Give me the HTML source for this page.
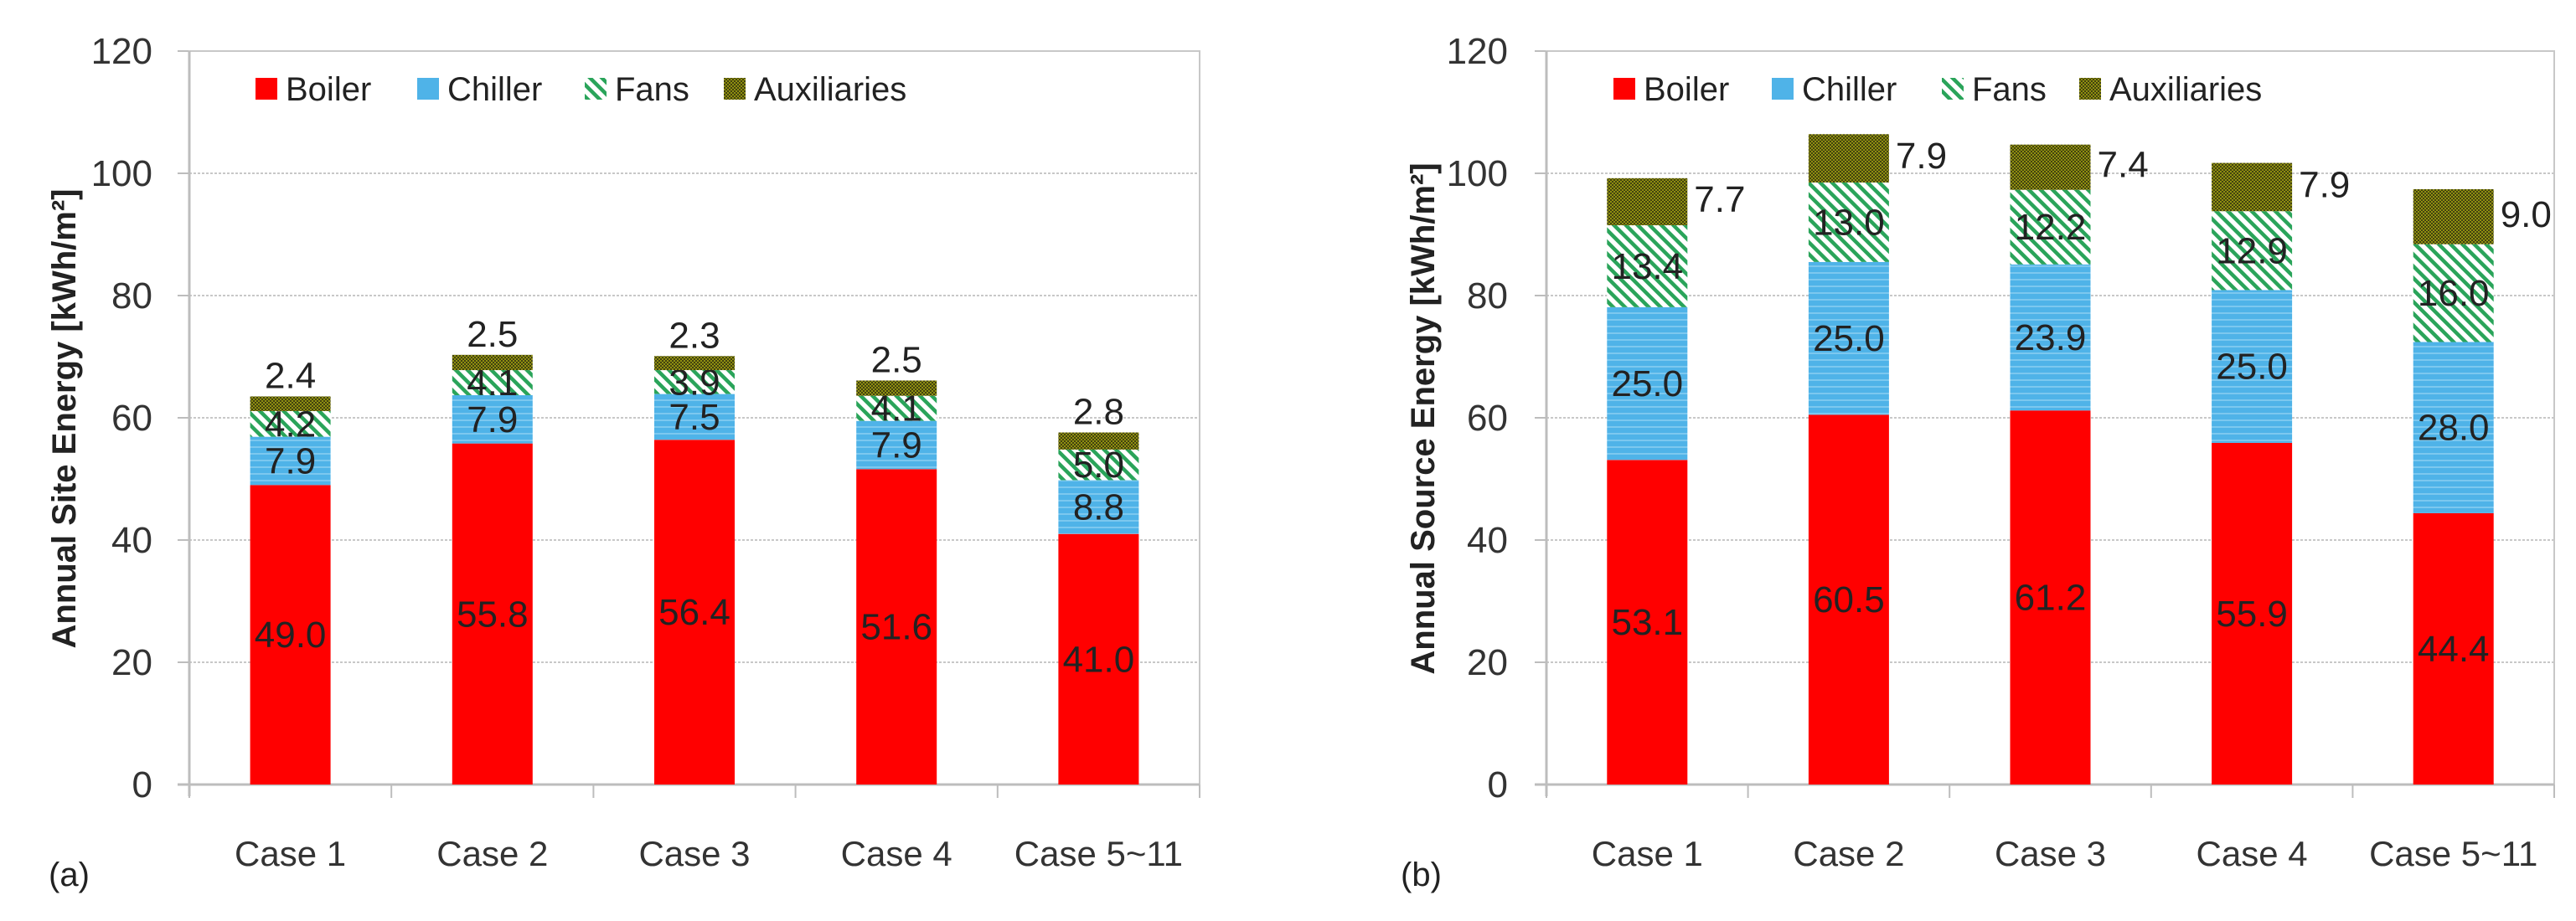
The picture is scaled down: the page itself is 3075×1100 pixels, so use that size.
<!DOCTYPE html>
<html><head><meta charset="utf-8">
<style>
html,body{margin:0;padding:0;background:#fff;}
svg{display:block;font-family:"Liberation Sans",sans-serif;}
</style></head>
<body>
<svg id="chart" width="3075" height="1100" viewBox="0 0 3075 1100" xmlns="http://www.w3.org/2000/svg">
<defs>
<pattern id="pFans" width="10" height="10" patternUnits="userSpaceOnUse" patternTransform="rotate(-45)">
<rect width="10" height="10" fill="#fff"/><rect width="4.5" height="10" fill="#2aa45a"/>
</pattern>
<pattern id="pChill" width="10" height="8" patternUnits="userSpaceOnUse">
<rect width="10" height="8" fill="#4fb3e8"/><rect y="5" width="10" height="2" fill="#7cc8ef"/>
</pattern>
<pattern id="pAux" width="4" height="4" patternUnits="userSpaceOnUse">
<rect width="4" height="4" fill="#8f8f10"/><rect width="2" height="2" fill="#42420f"/><rect x="2" y="2" width="2" height="2" fill="#42420f"/>
</pattern>
</defs>
<g id="root"></g>
</svg>
<script>
const categories = ["Case 1","Case 2","Case 3","Case 4","Case 5~11"];
const seriesNames = ["Boiler","Chiller","Fans","Auxiliaries"];
const siteBoiler = [49.0,55.8,56.4,51.6,41.0];
const siteChiller = [7.9,7.9,7.5,7.9,8.8];
const siteFans = [4.2,4.1,3.9,4.1,5.0];
const siteAux = [2.4,2.5,2.3,2.5,2.8];
const srcBoiler = [53.1,60.5,61.2,55.9,44.4];
const srcChiller = [25.0,25.0,23.9,25.0,28.0];
const srcFans = [13.4,13.0,12.2,12.9,16.0];
const srcAux = [7.7,7.9,7.4,7.9,9.0];
const yTicks = [0,20,40,60,80,100,120];

const NS = "http://www.w3.org/2000/svg";
const root = document.getElementById('root');
function mk(tag, attrs, parent, text){
  const e = document.createElementNS(NS, tag);
  for (const k in attrs) e.setAttribute(k, attrs[k]);
  if (text !== undefined) e.textContent = text;
  (parent || root).appendChild(e);
  return e;
}
const fills = ["#ff0000","url(#pChill)","url(#pFans)","url(#pAux)"];
const legendFills = ["#ff0000","#4fb3e8","url(#pFans)","url(#pAux)"];

function drawChart(cfg){
  const g = mk('g', {});
  
  
  const L = cfg.left, R = cfg.right, y0 = 937, yTop = 61;
  const yScale = v => y0 - (v/120)*(y0-yTop);
  const cw = (R-L)/categories.length;
  const xC = i => L + cw*(i+0.5);
  yTicks.forEach(t=>{
    const y = yScale(t);
    if (t>0){
      const gl = mk('line',{x1:L,x2:R,y1:y,y2:y,stroke:'#c8c8c8','stroke-width':2,'stroke-dasharray':'3,2'},g);
      
      
    }
    const tl = mk('line',{x1:L-14,x2:L,y1:y,y2:y,stroke:'#bdbdbd','stroke-width':2},g);
    
    
    const tx = mk('text',{x:cfg.tickRight,y:y+15,'text-anchor':'end','font-size':44,fill:'#333'},g,String(t));
    
    
  });
  const fr = mk('rect',{x:L,y:yTop,width:R-L,height:y0-yTop,fill:'none',stroke:'#c8c8c8','stroke-width':2},g);
  
  
  const ax = mk('line',{x1:L,x2:L,y1:yTop,y2:y0+14,stroke:'#bdbdbd','stroke-width':3},g);
  
  
  const xa = mk('line',{x1:L-14,x2:R,y1:y0,y2:y0,stroke:'#bdbdbd','stroke-width':3},g);
  
  
  for (let i=0;i<=categories.length;i++){
    const xt = mk('line',{x1:L+cw*i,x2:L+cw*i,y1:y0,y2:y0+16,stroke:'#bdbdbd','stroke-width':2},g);
    
    
  }
  const bw = 96;
  categories.forEach((c,i)=>{
    const vals = cfg.series.map(s=>s[i]);
    let cum = 0;
    vals.forEach((v,k)=>{
      const yT = yScale(cum+v), yB = yScale(cum);
      const r = mk('rect',{x:xC(i)-bw/2,y:yT,width:bw,height:yB-yT,fill:fills[k]},g);
      
      
      let lx = xC(i), ly = (yT+yB)/2+15, anchor='middle';
      if (k===3){
        if (cfg.auxSide){ lx = xC(i)+bw/2+8; anchor='start'; ly = (yT+yB)/2+12; }
        else { ly = yT-10; }
      }
      const t = mk('text',{x:lx,y:ly,'text-anchor':anchor,'font-size':44,fill:'#222'},g,v.toFixed(1));
      
      
      cum += v;
    });
    const cl = mk('text',{x:xC(i),y:1034,'text-anchor':'middle','font-size':42,fill:'#333'},g,c);
    
    
  });
  const yt = mk('text',{x:0,y:0,transform:`translate(${cfg.titleX},500) rotate(-90)`,'text-anchor':'middle','font-size':40,'font-weight':'bold',fill:'#222'},g,cfg.title);
  
  
  const pl = mk('text',{x:cfg.panelX,y:1058,'font-size':40,fill:'#222'},g,cfg.panel);
  
  
  cfg.legendX.forEach((lx,k)=>{
    const lg = mk('g',{},g);
    
    
    mk('rect',{x:lx,y:93,width:26,height:26,fill:legendFills[k]},lg);
    mk('text',{x:lx+36,y:120,'font-size':40,fill:'#222'},lg,seriesNames[k]);
  });
}
drawChart({name:'site-energy-chart',left:226,right:1432,tickRight:182,titleX:90,panelX:58,panel:'(a)',
  title:'Annual Site Energy [kWh/m²]',series:[siteBoiler,siteChiller,siteFans,siteAux],auxSide:false,
  legendX:[305,498,698,864]});
drawChart({name:'source-energy-chart',left:1846,right:3049,tickRight:1800,titleX:1712,panelX:1672,panel:'(b)',
  title:'Annual Source Energy [kWh/m²]',series:[srcBoiler,srcChiller,srcFans,srcAux],auxSide:true,
  legendX:[1926,2115,2318,2482]});
</script>
</body></html>
